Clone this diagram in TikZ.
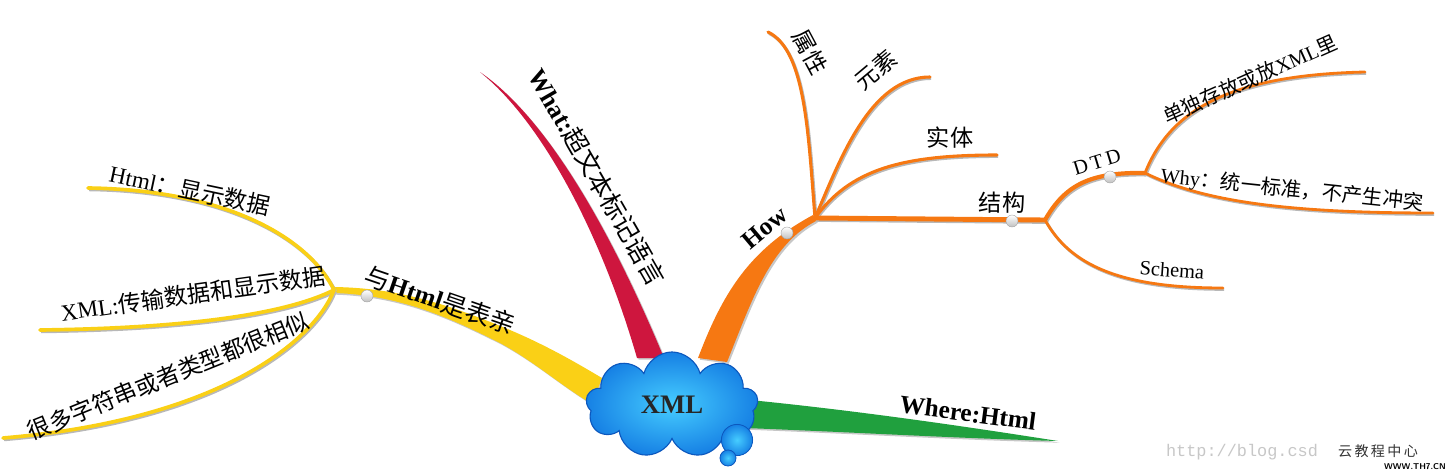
\documentclass[tikz,border=0pt]{standalone}
\usepackage{fontspec}
\setmainfont{Liberation Serif}
\newfontfamily\cjk{Noto Sans CJK SC}
\newfontfamily\monofont{Liberation Mono}
\usetikzlibrary{shapes.symbols,calc}

\definecolor{yellowbr}{RGB}{250,208,22}
\definecolor{orangebr}{RGB}{246,120,18}
\definecolor{redbr}{RGB}{206,22,62}
\definecolor{greenbr}{RGB}{32,160,62}
\definecolor{cloudin}{RGB}{70,205,255}
\definecolor{cloudout}{RGB}{22,128,228}
\definecolor{cloudedge}{RGB}{12,88,190}

\newcommand{\zh}[1]{{\cjk\mdseries #1}}

\begin{document}
\begin{tikzpicture}[x=0.025cm, y=-0.025cm,
    topic/.style={cloud, cloud puffs=9, aspect=1.6, minimum width=4.3cm, minimum height=2.65cm,
        inner color=cloudin, outer color=cloudout, draw=cloudedge, line width=0.8pt,
        font=\bfseries\fontsize{19}{22}\selectfont, text=black!85},
    bubble/.style={circle, inner sep=0pt, inner color=cloudin, outer color=cloudout, draw=cloudedge, line width=0.6pt},
    limb/.style={preaction={fill=black!22, transform canvas={shift={(1.2pt,-1.2pt)}}}},
    twig/.style={draw, line width=#1, line cap=round,
        preaction={draw=black!28, line width=#1, transform canvas={shift={(0.8pt,-1pt)}}}},
    twig/.default=2.2pt,
    knob/.style={circle, inner sep=0pt, minimum size=0.3cm, top color=white, bottom color=black!25, draw=black!35, line width=0.3pt},
    mainlbl/.style={font=\bfseries\fontsize{18}{20}\selectfont, inner sep=0pt},
    sublbl/.style={font=\fontsize{16.5}{18}\selectfont, inner sep=0pt},
    leaflbl/.style={font=\fontsize{14.5}{16}\selectfont, inner sep=0pt}
]
\useasboundingbox (0,0) rectangle (1447,474);

% Junctions and leaf ends
\coordinate (hub) at (672,405);
\coordinate (yJ) at (334,290);
\coordinate (yL1) at (88,188);
\coordinate (yL2) at (40,330);
\coordinate (yL3) at (3,438);
\coordinate (rT) at (480,72);
\coordinate (oJ) at (815,218);
\coordinate (oL1) at (768,32);
\coordinate (oL2) at (930,77);
\coordinate (oL3) at (997,155);
\coordinate (oJ2) at (1045,220);
\coordinate (oJ3) at (1145,173);
\coordinate (oL4) at (1365,72);
\coordinate (oL5) at (1433,213);
\coordinate (oL6) at (1223,288);
\coordinate (gT) at (1058,441);

% Yellow branch: Html
\fill[yellowbr, limb] ($(yJ)+(0,-3)$) .. controls (400,288) and (450,305) .. (510,330)
    .. controls (550,347) and (580,365) .. ($(hub)+(-70,-27)$) -- ($(hub)+(-80,-1)$)
    .. controls (560,385) and (535,362) .. (500,343)
    .. controls (450,318) and (400,295) .. ($(yJ)+(0,3)$) -- cycle;
\draw[twig=2.6pt, yellowbr] (yJ) .. controls (310,240) and (230,190) .. (yL1);
\draw[twig=2.6pt, yellowbr] (yJ) .. controls (290,312) and (200,328) .. (yL2);
\draw[twig=2.6pt, yellowbr] (yJ) .. controls (315,340) and (220,420) .. (yL3);

% Red branch: What
\fill[redbr, limb] (rT) .. controls (540,120) and (600,230) .. ($(hub)+(-35,-47)$)
    -- ($(hub)+(-8,-47)$) .. controls (615,240) and (550,120) .. (rT) -- cycle;

% Orange branch: How
\fill[orangebr, limb] ($(hub)+(26,-47)$) .. controls (722,295) and (748,250) .. ($(oJ)+(-2,-3)$)
    -- ($(oJ)+(1,3)$) .. controls (770,245) and (752,300) .. ($(hub)+(55,-43)$) -- cycle;
\draw[twig, orangebr] (oJ) .. controls (808,130) and (805,50) .. (oL1);
\draw[twig, orangebr] (oJ) .. controls (840,160) and (870,77) .. (oL2);
\draw[twig, orangebr] (oJ) .. controls (850,170) and (900,155) .. (oL3);
\draw[twig=3.5pt, orangebr] (oJ) -- (oJ2);
\draw[twig=3pt, orangebr] (oJ2) .. controls (1065,185) and (1090,172) .. (oJ3);
\draw[twig=2pt, orangebr] (oJ3) .. controls (1170,110) and (1230,75) .. (oL4);
\draw[twig=2pt, orangebr] (oJ3) .. controls (1200,200) and (1280,213) .. (oL5);
\draw[twig=2pt, orangebr] (oJ2) .. controls (1070,265) and (1120,288) .. (oL6);

% Green branch: Where
\fill[greenbr, limb] ($(hub)+(78,-5)$) .. controls (850,410) and (950,424) .. (gT)
    .. controls (950,438) and (850,432) .. ($(hub)+(73,23)$) -- cycle;

% Central topic
\node[topic] (xml) at (hub) {XML};
\node[bubble, minimum size=0.78cm] (bub1) at (737,440) {};
\node[bubble, minimum size=0.4cm] (bub2) at (728,458) {};

% Knobs
\node[knob] (k1) at (367,296) {};
\node[knob] (k2) at (787,233) {};
\node[knob] (k3) at (1012,221) {};
\node[knob] (k4) at (1110,177) {};

% Labels
\node[mainlbl, rotate=-19] (html) at (440,300) {\zh{与}Html\zh{是表亲}};
\node[mainlbl, rotate=-60] (what) at (597,177) {What:\zh{超文本标记语言}};
\node[mainlbl, rotate=40] (how) at (765,228) {How};
\node[mainlbl, rotate=-7.5] (where) at (968,413) {Where:Html};

\node[sublbl, rotate=-12] (h1) at (190,190) {Html\zh{：显示数据}};
\node[sublbl, rotate=8] (h2) at (193,294) {XML:\zh{传输数据和显示数据}};
\node[sublbl, rotate=22] (h3) at (168,376) {\zh{很多字符串或者类型都很相似}};

\node[sublbl, rotate=-62] (o1) at (810,52) {\zh{属性}};
\node[sublbl, rotate=40] (o2) at (876,70) {\zh{元素}};
\node[sublbl] (o3) at (950,138) {\zh{实体}};
\node[sublbl] (o4) at (1002,203) {\zh{结构}};
\node[leaflbl, rotate=17] (dtd) at (1097,162) {D\,T\,D};
\node[leaflbl, rotate=24] (o5) at (1250,79) {\zh{单独存放或放}XML\zh{里}};
\node[leaflbl, rotate=-6] (o6) at (1292,190) {Why\zh{：统一标准，不产生冲突}};
\node[leaflbl, rotate=-4] (o7) at (1172,270) {Schema};

% Watermark
\node[font=\monofont\fontsize{12}{14}\selectfont, text=black!22] (wm) at (1242,452) {http://blog.csd};
\node[font=\cjk\fontsize{10}{12}\selectfont, text=black!80] (brand) at (1378,451) {云\,教\,程\,中\,心};
\node[font=\sffamily\bfseries\fontsize{6}{7}\selectfont] (site) at (1415,467) {WWW.TH7.CN};

\end{tikzpicture}
\end{document}
